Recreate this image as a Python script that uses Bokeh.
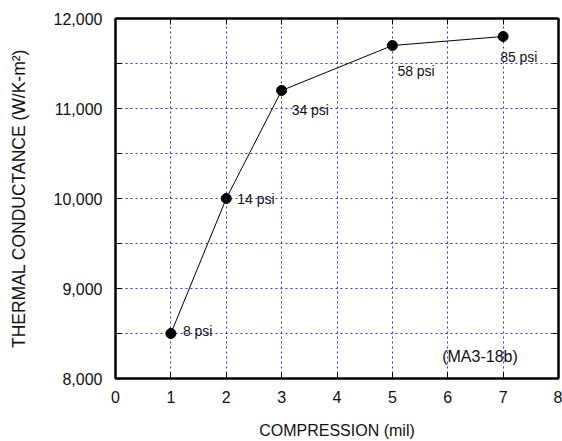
from bokeh.plotting import figure
from bokeh.models import (ColumnDataSource, FixedTicker, NumeralTickFormatter,
                          LinearAxis, Range1d, Label, CustomJSTickFormatter)
from bokeh.embed import file_html
from bokeh.resources import INLINE
from bokeh.core.properties import value

# ---- data ----
compression = [1, 2, 3, 5, 7]
conductance = [8500, 10000, 11200, 11700, 11800]
pressure_labels = ["8 psi", "14 psi", "34 psi", "58 psi", "85 psi"]
x_ticks = [0, 1, 2, 3, 4, 5, 6, 7, 8]
y_major_ticks = [8000, 9000, 10000, 11000, 12000]
y_minor_ticks = [8500, 9500, 10500, 11500]
note_text = "(MA3-18b)"
x_title = "COMPRESSION (mil)"
y_title = "THERMAL CONDUCTANCE (W/K-m²)"

# label placement (screen offsets, px)
label_dx = [12, 11, 10, 5, -3]
label_dy = [-3, 0, 19, 25, 20]

FONT = "Liberation Sans"

p = figure(width=562, height=441, output_backend="svg", toolbar_location=None,
           x_range=Range1d(0, 8), y_range=Range1d(8000, 12000),
           min_border_left=115, min_border_top=18, min_border_right=4,
           min_border_bottom=62, x_axis_location="below")
p.background_fill_color = "white"
p.border_fill_color = "white"
p.outline_line_color = "black"
p.outline_line_width = 2

# grid
GRID = "#2b2bff"
for g in (p.xgrid, p.ygrid):
    g.grid_line_color = GRID
    g.grid_line_dash = "2 3"
    g.grid_line_width = 1
p.ygrid.minor_grid_line_color = GRID
p.ygrid.minor_grid_line_dash = "2 3"

xt = FixedTicker(ticks=x_ticks)
yt = FixedTicker(ticks=y_major_ticks, minor_ticks=y_minor_ticks)
p.xaxis.ticker = xt
p.yaxis.ticker = yt
p.xgrid.ticker = xt
p.ygrid.ticker = yt
p.yaxis.formatter = NumeralTickFormatter(format="0,0")

for ax in (p.xaxis[0], p.yaxis[0]):
    ax.axis_line_width = 2
    ax.axis_line_color = "black"
    ax.major_tick_in = 6
    ax.major_tick_out = 0
    ax.minor_tick_in = 6
    ax.minor_tick_out = 0
    ax.major_tick_line_width = 1
    ax.minor_tick_line_width = 1
    ax.major_label_text_font = FONT
    ax.major_label_text_font_size = "16px"
    ax.major_label_text_color = "#111111"
    ax.axis_label_text_font = FONT
    ax.axis_label_text_font_style = "normal"
    ax.axis_label_text_color = "#111111"

p.xaxis.axis_label = x_title
p.xaxis.axis_label_text_font_size = "16px"
p.xaxis.major_label_standoff = 12
p.xaxis.major_label_text_line_height = 1.0
p.xaxis.axis_label_standoff = 16
p.xaxis.axis_label_text_line_height = 0.9
p.xaxis.minor_tick_in = 0

p.yaxis.axis_label = y_title
p.yaxis.axis_label_text_font_size = "17.5px"
p.yaxis.major_label_standoff = 13
p.yaxis.axis_label_standoff = 22

# top and right axes: ticks only
blank = CustomJSTickFormatter(code="return ''")
top = LinearAxis(ticker=xt, formatter=blank, major_label_standoff=0,
                 major_tick_in=6, major_tick_out=0, minor_tick_in=0, minor_tick_out=0,
                 axis_line_width=2)
right = LinearAxis(ticker=yt, formatter=blank, major_label_standoff=0,
                   major_tick_in=6, major_tick_out=0, minor_tick_in=6, minor_tick_out=0,
                   axis_line_width=2)
p.add_layout(top, "above")
p.add_layout(right, "right")

src = ColumnDataSource(dict(x=compression, y=conductance, lab=pressure_labels,
                            dx=label_dx, dy=label_dy))
p.line("x", "y", source=src, line_color="black", line_width=1)
p.scatter("x", "y", source=src, size=10, fill_color="black", line_color="black")
p.text("x", "y", text="lab", source=src, x_offset="dx", y_offset="dy",
       text_font=value(FONT), text_font_size="14px", text_align="left",
       text_baseline="middle", text_color="#111111")

p.add_layout(Label(x=5.9, y=8245, text=note_text, text_font=FONT,
                   text_font_size="16px", text_align="left", text_baseline="middle",
                   text_color="#111111"))

open("out.html", "w").write(file_html(p, INLINE))
